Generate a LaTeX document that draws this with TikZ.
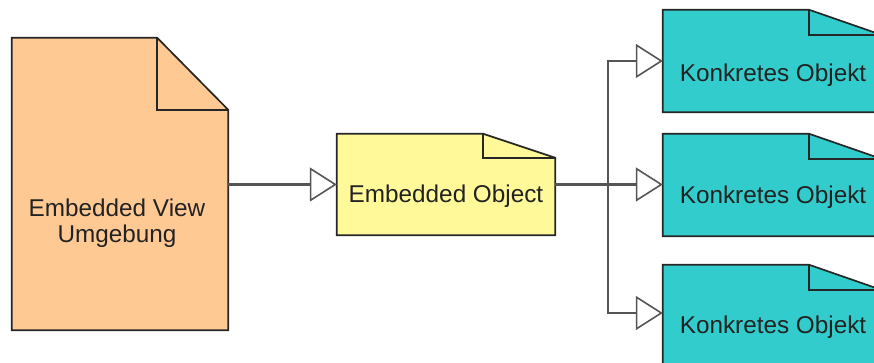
\documentclass[tikz,border=0pt]{standalone}
\usepackage{fontspec}
\setmainfont{Liberation Sans}
\usetikzlibrary{arrows.meta,calc}

\definecolor{peach}{HTML}{FFC994}
\definecolor{lemon}{HTML}{FFF99A}
\definecolor{teal2}{HTML}{33CCCC}
\definecolor{outline}{HTML}{262626}
\definecolor{wire}{HTML}{555555}
\definecolor{ink}{HTML}{222222}

\tikzset{
  docbox/.style={rectangle, draw=none, inner sep=0pt},
  docline/.style={draw=outline, line width=1.7pt, line join=miter},
  doctext/.style={font=\fontsize{24.3}{25.5}\selectfont, text=ink, inner sep=0pt, align=center},
  inherit/.style={draw=wire, line width=2.2pt,
    -{Triangle[open, length=27pt, width=34pt, line width=1.6pt, fill=white]}},
}

% folded-corner document outline around a named node: #1 name, #2 fold width, #3 fold height, #4 fill
\newcommand\dogear[4]{%
  \path[docline, fill=#4] (#1.north west) -- ([xshift=-#2]#1.north east)
    -- ([yshift=-#3]#1.north east) -- (#1.south east) -- (#1.south west) -- cycle;
  \draw[docline] ([xshift=-#2]#1.north east) -- ([xshift=-#2,yshift=-#3]#1.north east)
    -- ([yshift=-#3]#1.north east);
}

\begin{document}
\begin{tikzpicture}[x=1pt, y=-1pt]
  \useasboundingbox (0,0) rectangle (874,363);
  \clip (0,0) rectangle (874,363);

  % document boxes
  \node[docbox, minimum width=216pt, minimum height=292pt] (env) at (120,184) {};
  \node[docbox, minimum width=218pt, minimum height=101pt] (eo) at (446,184.5) {};
  \node[docbox, minimum width=218pt, minimum height=102pt] (k1) at (772,61) {};
  \node[docbox, minimum width=218pt, minimum height=102pt] (k2) at (772,185) {};
  \node[docbox, minimum width=218pt, minimum height=102pt] (k3) at (772,316) {};

  \dogear{env}{71pt}{72pt}{peach}
  \dogear{eo}{72pt}{24pt}{lemon}
  \dogear{k1}{72pt}{25pt}{teal2}
  \dogear{k2}{72pt}{25pt}{teal2}
  \dogear{k3}{72pt}{25pt}{teal2}

  % labels
  \node[doctext] (envlabel) at (117,223) {Embedded View\\Umgebung};
  \node[doctext, anchor=base] (eolabel) at (446,203) {Embedded Object};
  \node[doctext, anchor=base] (k1label) at (773,82) {Konkretes Objekt};
  \node[doctext, anchor=base] (k2label) at (773,204) {Konkretes Objekt};
  \node[doctext, anchor=base] (k3label) at (773,333) {Konkretes Objekt};

  % connectors
  \draw[inherit] (env.east |- eo.west) -- (eo.west);
  \coordinate (jn) at ($(eo.east)+(53pt,0)$);
  \draw[draw=wire, line width=2.2pt] (eo.east) -- (jn);
  \draw[inherit] (jn) |- (k1.west);
  \draw[inherit] (jn) -- (k2.west |- jn);
  \draw[inherit] (jn) |- ([yshift=3pt]k3.west);
\end{tikzpicture}
\end{document}
